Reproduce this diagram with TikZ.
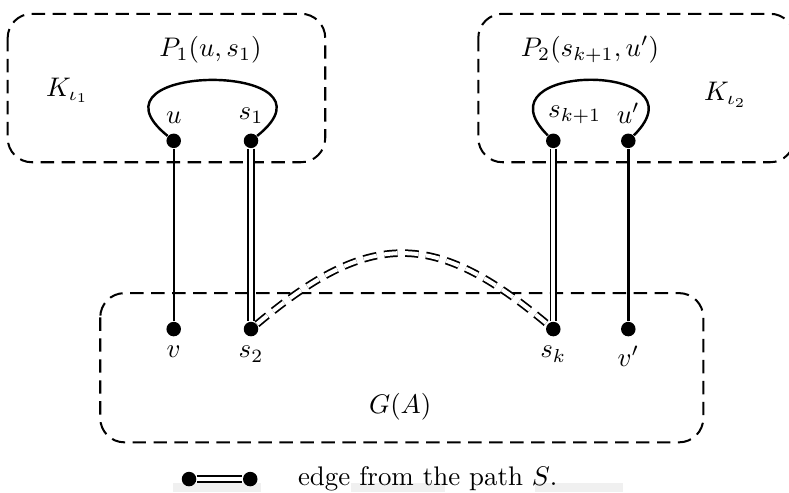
\documentclass[tikz,border=0pt]{standalone}
\usepackage{amsmath,amssymb}
\usetikzlibrary{positioning}

\begin{document}
\begin{tikzpicture}[
  vert/.style={circle,fill=black,inner sep=0pt,minimum size=5.4pt},
  blob/.style={draw,dash pattern=on 5pt off 2.8pt,line width=0.75pt,rounded corners=9pt},
  pathedge/.style={double,line width=0.65pt,double distance=1.5pt},
  plain/.style={line width=0.9pt},
  strip/.style={fill=black!6,draw=none}
]
\useasboundingbox (0,0) rectangle (10.31,-6.43);
% ---- strips under the legend ----
\fill[strip] (2.26,-6.31) rectangle (3.41,-6.43);
\fill[strip] (4.58,-6.31) rectangle (5.82,-6.43);
\fill[strip] (6.99,-6.31) rectangle (8.14,-6.43);
% ---- components ----
\draw[blob] (0.10,-0.18) rectangle (4.25,-2.12);
\draw[blob] (6.25,-0.18) rectangle (10.38,-2.12);
\draw[blob] (1.31,-3.83) rectangle (9.19,-5.78);
\node (k1) at (0.88,-1.18) {$K_{\iota_1}$};
\node (k2) at (9.48,-1.24) {$K_{\iota_2}$};
\node (p1) at (2.75,-0.65) {$P_1(u,s_1)$};
\node (p2) at (7.71,-0.65) {$P_2(s_{k+1},u')$};
\node (ga) at (5.23,-5.32) {$G(A)$};
% ---- vertices ----
\node[vert,label={above:$u$}] (u) at (2.27,-1.84) {};
\node[vert,label={above:$s_1$}] (s1) at (3.28,-1.84) {};
\node[vert,label={[xshift=0.28cm]above:$s_{k+1}$}] (sk1) at (7.23,-1.84) {};
\node[vert,label={above:$u'$}] (u2) at (8.21,-1.84) {};
\node[vert,label={below:$v$}] (v) at (2.27,-4.30) {};
\node[vert,label={below:$s_2$}] (s2) at (3.28,-4.30) {};
\node[vert,label={below:$s_k$}] (sk) at (7.23,-4.30) {};
\node[vert,label={below:$v'$}] (v2) at (8.21,-4.30) {};
% ---- edges ----
\draw[plain] (u) .. controls (0.98,-0.80) and (4.58,-0.80) .. (s1);
\draw[plain] (sk1) .. controls (6.18,-0.80) and (9.26,-0.80) .. (u2);
\draw[plain] (u) -- (v);
\draw[plain] (u2) -- (v2);
\draw[pathedge] (s1) -- (s2);
\draw[pathedge] (sk1) -- (sk);
\draw[pathedge,dash pattern=on 5pt off 2.8pt] (s2) to[out=40,in=140,looseness=1.3] (sk);
% ---- legend ----
\node[vert] (la) at (2.47,-6.26) {};
\node[vert] (lb) at (3.27,-6.26) {};
\draw[pathedge] (la) -- (lb);
\node[anchor=west] (ltext) at (3.77,-6.26) {edge from the path $S$.};
\end{tikzpicture}
\end{document}
